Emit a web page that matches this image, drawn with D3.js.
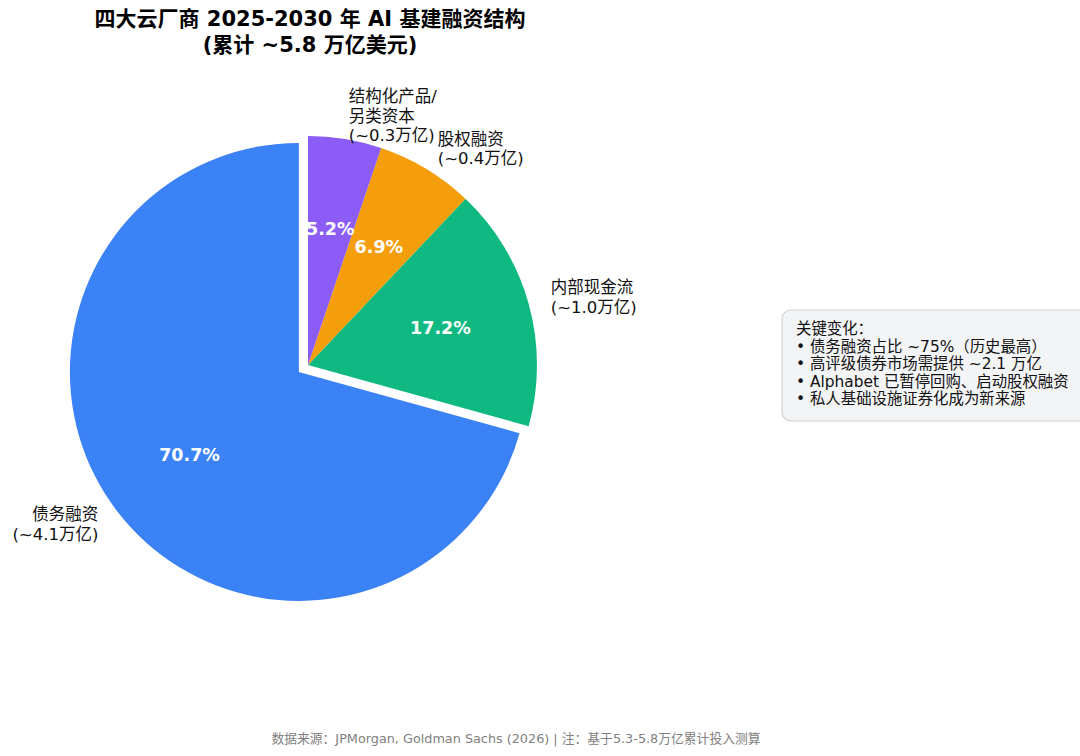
<!DOCTYPE html>
<html>
<head>
<meta charset="utf-8">
<script src="https://cdn.jsdelivr.net/npm/d3@7"></script>
<style>
  html, body { margin: 0; padding: 0; background: #fff; }
  svg { display: block; font-family: "DejaVu Sans", "Noto Sans CJK SC", sans-serif; }
</style>
</head>
<body>
<script>
// data (万亿美元)
const categories = ["债务融资", "内部现金流", "股权融资", "结构化产品/\n另类资本"];
const amounts = [4.1, 1.0, 0.4, 0.3];
const amountLabels = ["(~4.1万亿)", "(~1.0万亿)", "(~0.4万亿)", "(~0.3万亿)"];
const colors = ["#3b82f6", "#10b981", "#f59e0b", "#8b5cf6"];
const explode = [0.05, 0, 0, 0];

const titleLines = ["四大云厂商 2025-2030 年 AI 基建融资结构", "(累计 ~5.8 万亿美元)"];
const noteLines = [
  "关键变化：",
  "• 债务融资占比 ~75%（历史最高）",
  "• 高评级债券市场需提供 ~2.1 万亿",
  "• Alphabet 已暂停回购、启动股权融资",
  "• 私人基础设施证券化成为新来源"
];
const footer = "数据来源：JPMorgan, Goldman Sachs (2026) | 注：基于5.3-5.8万亿累计投入测算";

const width = 1080, height = 756;
const cx = 308, cy = 365, radius = 229;

const svg = d3.select("body").append("svg")
  .attr("width", width)
  .attr("height", height);

// title
svg.append("text")
  .attr("x", 310)
  .attr("text-anchor", "middle")
  .style("font-weight", "bold")
  .style("font-size", "21px")
  .selectAll("tspan")
  .data(titleLines)
  .enter()
  .append("tspan")
  .attr("x", 310)
  .attr("y", (d, i) => 19 + i * 26)
  .attr("dominant-baseline", "central")
  .text(d => d);

// matplotlib style: start at 12 o'clock, counter-clockwise
const pie = d3.pie().sort(null).startAngle(0).endAngle(-2 * Math.PI);
const arcs = pie(amounts);
const total = d3.sum(amounts);

const arc = d3.arc().innerRadius(0).outerRadius(radius);

function polar(a, r) {
  return [Math.sin(a) * r, -Math.cos(a) * r];
}

const g = svg.append("g").attr("transform", `translate(${cx},${cy})`);

const slice = g.selectAll("g.slice")
  .data(arcs)
  .enter()
  .append("g")
  .attr("class", "slice")
  .attr("transform", (d, i) => {
    const mid = (d.startAngle + d.endAngle) / 2;
    const [dx, dy] = polar(mid, explode[i] * radius);
    return `translate(${dx},${dy})`;
  });

slice.append("path")
  .attr("d", arc)
  .attr("fill", (d, i) => colors[i]);

// percentage labels
slice.append("text")
  .attr("x", d => polar((d.startAngle + d.endAngle) / 2, 0.6 * radius)[0])
  .attr("y", d => polar((d.startAngle + d.endAngle) / 2, 0.6 * radius)[1])
  .attr("text-anchor", "middle")
  .attr("dominant-baseline", "central")
  .attr("fill", "white")
  .style("font-weight", "bold")
  .style("font-size", "17.5px")
  .text(d => (d.value / total * 100).toFixed(1) + "%");

// category labels outside
const lineH = 19.5;
slice.each(function (d, i) {
  const mid = (d.startAngle + d.endAngle) / 2;
  const [lx, ly] = polar(mid, 1.1 * radius);
  const lines = (categories[i] + "\n" + amountLabels[i]).split("\n");
  const t = d3.select(this).append("text")
    .attr("text-anchor", lx > 0 ? "start" : "end")
    .style("font-size", "16.5px")
    .attr("fill", "#111");
  lines.forEach((s, k) => {
    t.append("tspan")
      .attr("x", lx)
      .attr("y", ly - (lines.length - 1) * lineH / 2 + k * lineH)
      .attr("dominant-baseline", "central")
      .text(s);
  });
});

// note box
const box = svg.append("g");
box.append("rect")
  .attr("x", 782)
  .attr("y", 310)
  .attr("width", 320)
  .attr("height", 111)
  .attr("rx", 9)
  .attr("fill", "#f3f4f6")
  .attr("stroke", "#cfd2d6")
  .attr("stroke-width", 1.2);

box.append("text")
  .style("font-size", "15.4px")
  .attr("fill", "#111")
  .selectAll("tspan")
  .data(noteLines)
  .enter()
  .append("tspan")
  .attr("x", 796)
  .attr("y", (d, i) => 329 + i * 17.5)
  .attr("dominant-baseline", "central")
  .text(d => d);

// footer
svg.append("text")
  .attr("x", 516)
  .attr("y", 738)
  .attr("text-anchor", "middle")
  .attr("dominant-baseline", "central")
  .attr("fill", "#808080")
  .style("font-size", "12.8px")
  .text(footer);
</script>
</body>
</html>
